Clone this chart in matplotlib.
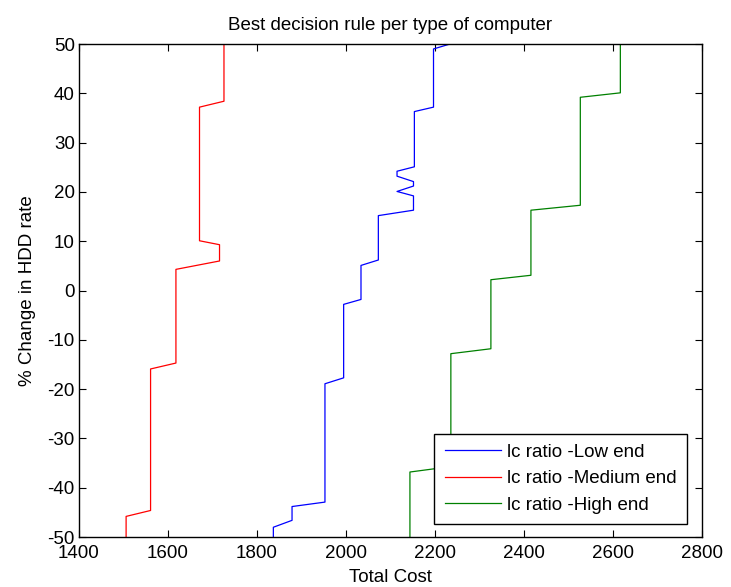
import matplotlib
matplotlib.use("Agg")
import matplotlib.pyplot as plt

plt.rcParams['font.family'] = ['Liberation Sans', 'DejaVu Sans']
plt.rcParams['axes.unicode_minus'] = False

# Polyline vertices (Total Cost, % change in HDD rate)
low_cost = [1837, 1837, 1879, 1879, 1953, 1953, 1995, 1995, 2034, 2034, 2073, 2073,
            2152, 2152, 2115, 2152, 2152, 2115, 2115, 2154, 2154, 2197, 2197, 2234]
low_change = [-50, -48.0, -46.6, -43.8, -42.9, -18.9, -17.7, -2.8, -1.8, 5.1, 6.2, 15.2,
              16.3, 19.2, 20.1, 21.2, 22.1, 23.2, 24.2, 25.1, 36.3, 37.2, 49.0, 50]

med_cost = [1506, 1506, 1561, 1561, 1618, 1618, 1716, 1716, 1671, 1671, 1726, 1726]
med_change = [-50, -45.8, -44.6, -15.9, -14.7, 4.3, 6.0, 9.3, 10.1, 37.2, 38.4, 50]

high_cost = [2144, 2144, 2236, 2236, 2326, 2326, 2416, 2416, 2527, 2527, 2617, 2617]
high_change = [-50, -36.8, -35.7, -12.8, -11.8, 2.2, 3.1, 16.3, 17.3, 39.2, 40.1, 50]

labels = ['lc ratio -Low end', 'lc ratio -Medium end', 'lc ratio -High end']
x_ticks = [1400, 1600, 1800, 2000, 2200, 2400, 2600, 2800]
y_ticks = [-50, -40, -30, -20, -10, 0, 10, 20, 30, 40, 50]

FS = 13.5

fig = plt.figure(figsize=(7.31, 5.87), dpi=100)
ax = fig.add_axes([0.108, 0.085, 0.852, 0.840])

ax.plot(low_cost, low_change, color='#0000ff', lw=0.9, label=labels[0])
ax.plot(med_cost, med_change, color='#ff0000', lw=0.9, label=labels[1])
ax.plot(high_cost, high_change, color='#008000', lw=0.9, label=labels[2])

ax.set_xlim(1400, 2800)
ax.set_ylim(-50, 50)
ax.set_xticks(x_ticks)
ax.set_yticks(y_ticks)
ax.tick_params(direction='in', top=True, right=True, labelsize=FS, length=5, width=0.8)
ax.tick_params(axis='x', pad=6)
ax.tick_params(axis='y', pad=3)
for s in ax.spines.values():
    s.set_linewidth(1.0)

ax.set_title('Best decision rule per type of computer', fontsize=FS, pad=10)
ax.set_xlabel('Total Cost', fontsize=FS, labelpad=5)
ax.set_ylabel('% Change in HDD rate', fontsize=FS, labelpad=8)

leg = ax.legend(loc='lower right', bbox_to_anchor=(0.977, 0.026), fontsize=FS,
                fancybox=False, framealpha=1, edgecolor='black', handlelength=3.0,
                borderpad=0.55, labelspacing=0.5, handletextpad=0.35,
                borderaxespad=0)
leg.get_frame().set_linewidth(1.0)

fig.savefig('out.png', dpi=100)
